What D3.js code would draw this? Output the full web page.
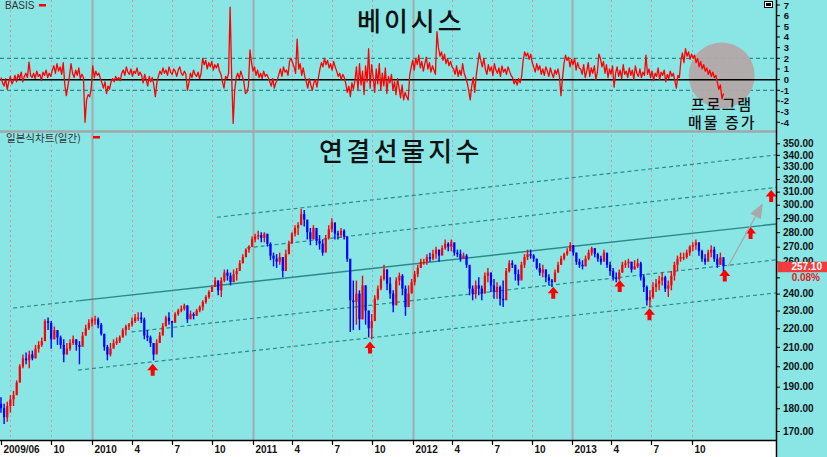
<!DOCTYPE html>
<html><head><meta charset="utf-8">
<script src="https://cdn.jsdelivr.net/npm/d3@7"></script>
<style>html,body{margin:0;padding:0;background:#8ae5e5;}svg{display:block}</style>
</head><body>
<svg id="c" width="827" height="457"></svg>
<script>
// ---------------- DATA ----------------
const startWeek = '2009-06-12';
const firstOpen = 182;
const wkHigh = [185,182,183,186,188,193,201,206,207,208,208,211,213,215,225,226,224,221,219,216,214,212,214,216,214,213,218,222,225,226,
227,226,223,217,211,212,214,215,216,220,222,223,226,228,229,229,226,219,216,212,214,218,223,227,229,224,229,231,233,234,
233,230,229,231,233,236,239,242,245,250,248,250,255,255,253,255,256,261,265,269,271,277,279,281,280,280,278,273,266,265,
266,263,268,274,280,285,287,297,296,285,283,285,281,278,275,278,285,290,285,281,283,282,271,255,248,248,242,251,245,230,
228,239,245,251,258,255,250,242,250,253,252,245,245,249,254,258,262,262,265,266,268,270,268,271,275,273,275,272,268,268,
266,265,255,245,248,250,245,253,256,253,249,247,245,248,256,261,261,258,255,260,265,268,268,265,262,259,258,255,252,249,
255,260,264,266,269,273,271,266,262,261,264,268,270,269,266,264,268,265,260,256,253,255,260,261,262,260,261,262,260,252,
245,242,247,249,251,253,251,248,254,260,264,266,266,268,271,273,275,271,268,265,268,271,270,265,266,261];
const wkLow = [178,173,174,178,181,186,192,199,201,199,203,204,207,210,215,219,209,214,211,209,202,206,208,211,208,201,211,216,219,221,
222,220,216,208,203,205,210,211,212,215,216,219,221,223,224,223,214,213,210,203,207,212,218,222,222,215,224,227,229,230,
223,226,225,227,229,230,234,237,241,244,239,238,247,248,245,247,248,255,259,263,266,270,273,275,273,273,270,261,257,256,
258,250,255,265,273,277,278,287,284,275,271,275,271,268,264,268,275,280,275,275,276,275,260,218,219,222,219,225,222,215,
214,229,236,242,248,242,237,229,237,245,239,227,233,241,245,250,256,258,258,260,261,262,260,265,268,267,267,264,263,260,
262,256,239,236,237,239,236,243,247,241,237,237,233,232,245,253,256,248,245,249,256,261,262,260,255,251,250,247,245,244,
248,253,258,261,264,267,264,258,256,255,257,261,264,263,260,258,261,256,251,248,247,248,253,256,256,253,255,256,248,241,
233,232,237,241,242,245,241,238,242,248,254,260,261,262,264,267,268,264,260,258,261,263,260,256,258,253];
const wkClose = [180,176,181,184,186,192,200,204,203,206,204,209,211,213,224,223,214,219,215,211,206,209,212,214,211,210,216,220,223,225,
225,222,217,210,206,209,212,213,215,219,221,222,224,226,226,225,216,215,212,206,212,216,221,226,224,223,228,230,231,233,
225,228,227,230,232,235,238,241,244,248,242,248,253,251,247,252,254,259,263,268,270,275,277,278,276,279,272,264,262,260,
263,254,265,272,279,283,285,293,289,280,275,283,274,272,266,276,282,287,279,278,281,277,262,236,235,240,225,245,230,220,
224,237,243,249,255,246,240,233,248,251,243,232,240,247,252,256,260,260,263,262,265,268,264,269,272,270,273,266,265,262,
264,258,243,240,245,243,240,251,253,245,241,244,237,236,254,259,258,252,248,258,263,265,264,262,256,253,255,250,248,247,
253,258,262,265,267,271,266,260,258,257,262,266,269,265,262,260,266,258,254,250,249,253,258,259,260,255,257,259,250,244,
236,238,244,246,248,250,243,245,251,258,262,263,263,266,270,271,273,267,262,260,266,268,262,258,263,257.1];
const basis = [0.2,-0.3,-0.6,0.1,-0.9,-0.2,0.3,-0.4,-0.1,0.4,-0.2,
0.5,0.1,0.7,-0.2,0.3,0.6,0.2,1.65,0.4,
0.2,0.6,0.1,0.8,0.3,0.5,-0.1,0.7,0.4,0.9,0.2,0.6,0.3,
0.9,1.3,0.6,1.5,0.8,1.2,0.5,1.6,
-0.4,-1.5,-0.6,
0.3,1.5,0.6,0.2,0.9,0.4,1.1,0.1,0.5,0.2,
-4.0,
-1.9,-1.4,-1.6,-0.8,
1.3,
0.2,0.8,0.4,0.6,0.1,
-0.3,-0.8,-0.2,-1.3,-0.6,-0.9,-0.2,
0.1,-0.2,0.3,0.0,0.2,-0.1,
0.6,0.9,0.4,1.2,0.7,0.5,1.0,0.3,0.8,0.6,1.1,0.4,0.7,
0.4,-0.3,0.5,0.0,-0.6,0.3,-0.2,0.2,-0.5,-1.6,-0.3,
0.3,0.8,0.5,1.1,0.6,0.9,0.4,1.2,0.7,0.5,1.0,0.8,0.3,0.9,1.2,0.6,0.4,0.8,0.5,-1.0,-0.3,0.6,0.2,0.9,0.5,0.3,0.7,0.1,
0.6,2.0,1.4,1.8,1.0,1.6,1.2,1.7,0.9,1.4,1.1,1.5,0.8,
0.5,-0.2,-0.8,0.3,0.1,0.6,
6.8,
0.4,-4.1,-1.0,0.2,
0.6,0.1,0.8,0.3,-0.2,
-1.3,-1.2,-0.6,
2.8,
1.6,0.8,1.2,0.4,0.9,0.2,0.6,0.1,0.8,0.3,0.5,0.2,
-0.2,-0.6,0.1,-0.8,-0.3,0.0,
0.5,1.0,0.3,1.2,0.7,0.9,0.4,
1.7,2.0,1.6,
1.2,0.6,3.8,1.0,1.5,0.4,1.1,0.3,
-0.2,-0.8,0.1,-0.5,-1.0,-0.3,0.0,-0.7,0.2,
1.0,1.6,1.2,2.0,1.4,1.8,1.1,1.5,0.9,1.7,1.2,
0.8,0.3,0.6,0.0,0.5,0.2,
-0.4,-1.2,-0.6,-1.6,-0.3,-0.9,-0.1,
1.2,-1.0,1.5,-0.5,0.8,-1.4,1.3,-0.2,2.9,
-0.8,1.4,0.2,-1.2,1.0,-0.4,1.5,-1.0,0.6,-0.6,1.1,-1.3,0.3,
-0.3,0.5,-1.0,-0.2,-1.4,0.1,-0.8,-1.7,-0.5,-1.9,-1.2,-1.6,-1.9,
0.4,1.2,1.8,0.9,2.0,1.4,2.3,1.1,1.7,0.8,1.5,2.1,1.0,1.6,0.7,1.3,0.9,0.5,
4.5,
3.0,2.2,2.6,1.8,2.4,1.5,2.0,1.3,1.7,1.2,
1.0,0.5,1.3,0.3,0.9,0.4,1.5,0.6,0.2,
-0.3,-1.0,-1.9,-0.6,0.2,-1.2,0.4,
1.5,2.5,1.8,1.2,2.0,
1.0,0.5,1.4,0.8,1.2,0.4,1.5,0.9,0.6,1.1,0.3,1.3,0.7,1.0,0.5,1.2,0.8,0.4,
0.2,-0.4,0.0,-0.5,0.1,-0.3,0.3,
1.8,2.6,2.2,2.5,1.9,2.4,1.6,
1.2,0.7,1.5,0.9,1.3,0.5,1.0,0.4,1.2,0.8,0.3,1.1,0.6,0.2,0.9,0.5,1.0,0.3,-1.5,0.1,
1.5,2.3,1.8,2.1,1.2,1.9,1.4,2.0,0.9,1.6,1.1,
1.0,0.5,1.4,0.2,0.8,1.6,0.3,1.1,0.6,1.3,0.0,0.7,2.4,
2.0,1.2,1.7,0.6,1.4,0.2,1.0,0.5,1.3,
-0.7,0.6,1.2,0.3,0.9,0.1,1.4,0.5,0.8,0.2,1.1,0.4,0.9,0.0,1.3,0.6,0.3,1.0,0.2,0.7,0.4,2.3,
0.5,1.0,0.2,0.8,-0.1,0.6,0.3,1.1,0.0,0.7,0.4,0.9,-0.2,0.5,0.1,0.8,0.3,0.6,-0.1,-0.8,0.4,0.2,
1.8,2.5,1.6,2.9,2.2,2.6,1.9,2.4,2.0,
2.3,1.6,2.0,1.2,1.7,1.0,1.4,0.8,1.1,0.5,0.9,0.3,0.7,0.2,0.4,
-0.3,-0.9,-0.5,-1.8,-1.3];
const priceTicks = [170,180,190,200,210,220,230,240,250,260,270,280,290,300,310,320,330,340,350];
const hiddenPriceLabels = [250];   // covered by the last-price badge in the original
const basisTicks = [-4,-3,-2,-1,0,1,2,3,4,5,6,7];
const basisBands = [2,-1];
const firstLabel = '2009/06';
const lastPrice = '257.10', lastChange = '0.08%';
// trend channel lines (start date/price -> end date/price)
const trendStartDate = ['2009-07-09','2010-10-12','2010-12-19','2010-04-01','2009-12-01'];
const trendStartPrice = [231.5,290.7,269.2,218.0,198.1];
const trendEndDate = '2014-04-12';
const trendEndPrice = [285.8,339.9,313.3,261.2,240.4];
const trendSolidFrom = ['2009-12-05',null,null,null,null];
// red "buy" arrows (tip date / price)
const arrowDates = ['2010-05-19','2011-09-26','2012-11-19','2013-04-20','2013-06-27','2013-12-16','2014-02-13','2014-04-01'];
const arrowPrices = [201.2,212.8,244.2,248.4,231.3,255.0,283.7,311.3];
const projFrom = ['2013-12-23',256.8], projTo = ['2014-03-13',301.1];
const circleAt = ['2013-12-09',0.4];
const titleTop = '베이시스', titleBottom = '연결선물지수';
const noteLines = ['프로그램','매물 증가'];

// ---------------- LAYOUT ----------------
const parse = d3.timeParse('%Y-%m-%d');
const AX = 776;
const svg = d3.select('#c');
const x = d3.scaleTime()
  .domain(['2009-07-01','2010-01-01','2011-01-01','2012-01-01','2013-01-01','2013-10-01'].map(parse))
  .range([9.5,92,252.5,412.5,572,691.5]);
const yp = d3.scaleLog().domain([170,350]).range([431,143.3]);
const yb = d3.scaleLinear().domain([-4,7]).range([122.3,5]);

const t0 = parse(startWeek);
const weekDates = wkClose.map((_,i)=>d3.timeDay.offset(t0,7*i));
const tEnd = weekDates[weekDates.length-1];
const bTime = d3.scaleLinear().domain([0,basis.length-1]).range([t0.getTime(),tEnd.getTime()]);

const FONT = "'Liberation Sans', Arial, sans-serif";
const KFONT = "'Noto Sans CJK KR', sans-serif";
const BG = '#8ae5e5';

svg.append('rect').attr('width',827).attr('height',457).attr('fill',BG);
svg.append('rect').attr('x',0).attr('y',441).attr('width',AX).attr('height',16).attr('fill','#ffffff');

const defs = svg.append('defs');
defs.append('clipPath').attr('id','cTop').append('rect').attr('x',0).attr('y',0).attr('width',AX).attr('height',131);
defs.append('clipPath').attr('id','cBot').append('rect').attr('x',0).attr('y',133).attr('width',AX).attr('height',307);

// vertical grid
const qDates = d3.timeMonth.every(3).range(parse('2009-07-01'), parse('2013-10-02'));
const grid = svg.append('g');
qDates.forEach(d=>{
  const xx = Math.round(x(d))+0.5;
  if (d.getMonth()===0) {
    grid.append('line').attr('x1',xx).attr('x2',xx).attr('y1',0).attr('y2',440)
      .attr('stroke','#a4acac').attr('stroke-width',2);
  } else {
    grid.append('line').attr('x1',xx).attr('x2',xx).attr('y1',0).attr('y2',440)
      .attr('stroke','#c89aa4').attr('stroke-width',1).attr('stroke-dasharray','2,3');
  }
});
// separator
svg.append('line').attr('x1',0).attr('x2',AX).attr('y1',131.5).attr('y2',131.5).attr('stroke','#a0a8a8').attr('stroke-width',2.5);

// ---- top panel ----
const topG = svg.append('g').attr('clip-path','url(#cTop)');
basisBands.forEach(v=>{
  topG.append('line').attr('x1',0).attr('x2',AX).attr('y1',yb(v)).attr('y2',yb(v))
    .attr('stroke','#2c8c8c').attr('stroke-width',1.2).attr('stroke-dasharray','4,3');
});
topG.append('circle').attr('cx',x(parse(circleAt[0]))).attr('cy',yb(circleAt[1])).attr('r',33)
  .attr('fill','#b4a8a8').attr('opacity',0.95);
topG.append('line').attr('x1',0).attr('x2',AX).attr('y1',yb(0)).attr('y2',yb(0)).attr('stroke','#000').attr('stroke-width',1.5);
topG.append('path').datum(basis)
  .attr('d', d3.line().x((d,i)=>x(new Date(bTime(i)))).y(d=>yb(d)))
  .attr('fill','none').attr('stroke','#ff0000').attr('stroke-width',1.3).attr('stroke-linejoin','round');

// ---- bottom panel ----
const botG = svg.append('g').attr('clip-path','url(#cBot)');
trendStartDate.forEach((sd,i)=>{
  const x1 = x(parse(sd)), y1 = yp(trendStartPrice[i]);
  const x2 = x(parse(trendEndDate)), y2 = yp(trendEndPrice[i]);
  if (trendSolidFrom[i]) {
    const xm = x(parse(trendSolidFrom[i]));
    const ym = y1 + (y2-y1)*(xm-x1)/(x2-x1);
    botG.append('line').attr('x1',x1).attr('y1',y1).attr('x2',xm).attr('y2',ym)
      .attr('stroke','#2c8c8c').attr('stroke-width',1.2).attr('stroke-dasharray','4,3');
    botG.append('line').attr('x1',xm).attr('y1',ym).attr('x2',x2).attr('y2',y2)
      .attr('stroke','#2a8888').attr('stroke-width',1.4);
  } else {
    botG.append('line').attr('x1',x1).attr('y1',y1).attr('x2',x2).attr('y2',y2)
      .attr('stroke','#2c8c8c').attr('stroke-width',1.2).attr('stroke-dasharray','4,3');
  }
});
const candles = wkClose.map((c,i)=>({d:weekDates[i], o: i? wkClose[i-1] : firstOpen, h:wkHigh[i], l:wkLow[i], c}));
const cg = botG.append('g');
candles.forEach(k=>{
  const col = k.c >= k.o ? '#ff0000' : '#0000ff';
  const xx = x(k.d);
  cg.append('line').attr('x1',xx).attr('x2',xx).attr('y1',yp(k.h)).attr('y2',yp(k.l))
    .attr('stroke',col).attr('stroke-width',1.4);
  const yt = Math.min(yp(k.o),yp(k.c)), yB = Math.max(yp(k.o),yp(k.c));
  cg.append('rect').attr('x',xx-1.1).attr('y',yt).attr('width',2.2).attr('height',Math.max(1.2,yB-yt)).attr('fill',col);
});
// red arrows
arrowDates.forEach((d,i)=>{
  const ax = x(parse(d)), ay = yp(arrowPrices[i]);
  const p = [[ax,ay],[ax+5.5,ay+6.5],[ax+2,ay+6.5],[ax+2,ay+12],[ax-2,ay+12],[ax-2,ay+6.5],[ax-5.5,ay+6.5]];
  svg.append('path').attr('d','M'+p.map(q=>q.join(',')).join('L')+'Z').attr('fill','#ff0000');
});
// gray projection arrow
{
  const fx = x(parse(projFrom[0])), fy = yp(projFrom[1]);
  const tx = x(parse(projTo[0])), ty = yp(projTo[1]);
  const ang = Math.atan2(ty-fy, tx-fx);
  const L = 15, Wd = 6;
  const bx = tx - L*Math.cos(ang), by = ty - L*Math.sin(ang);
  svg.append('line').attr('x1',fx).attr('y1',fy).attr('x2',bx).attr('y2',by).attr('stroke','#a8a8a8').attr('stroke-width',1.3);
  const px = -Math.sin(ang), py = Math.cos(ang);
  svg.append('path').attr('d',`M${tx},${ty}L${bx+px*Wd},${by+py*Wd}L${bx-px*Wd},${by-py*Wd}Z`).attr('fill','#a8a8a8');
}

// ---- axes ----
svg.append('line').attr('x1',AX+0.5).attr('x2',AX+0.5).attr('y1',0).attr('y2',457).attr('stroke','#000').attr('stroke-width',1.5);
svg.append('line').attr('x1',0).attr('x2',AX).attr('y1',440.5).attr('y2',440.5).attr('stroke','#000').attr('stroke-width',1.5);

const gB = svg.append('g').attr('transform',`translate(${AX},0)`);
basisTicks.forEach(v=>{
  gB.append('line').attr('x1',0).attr('x2',4).attr('y1',yb(v)).attr('y2',yb(v)).attr('stroke','#000');
  gB.append('text').attr('x',13).attr('y',yb(v)+3.5).attr('text-anchor','end')
    .attr('font-family',FONT).attr('font-size',9.5).attr('font-weight','bold').attr('fill','#111').text(v);
});
const fmt = d3.format('.2f');
const gP = svg.append('g').attr('transform',`translate(${AX},0)`)
  .call(d3.axisRight(yp).tickValues(priceTicks)
    .tickFormat(v => hiddenPriceLabels.includes(v) ? '' : fmt(v)).tickSize(4).tickPadding(3));
gP.select('.domain').remove();
gP.selectAll('line').attr('stroke','#000');
gP.selectAll('text').attr('font-family',FONT).attr('font-size',10).attr('font-weight','bold').attr('fill','#111');

// last price badge
{
  const ly = yp(+lastPrice);
  svg.append('rect').attr('x',777.5).attr('y',ly-4.5).attr('width',50).attr('height',10.5).attr('fill','#f03c3c');
  svg.append('text').attr('x',822).attr('y',ly+4).attr('text-anchor','end').attr('font-family',FONT)
    .attr('font-size',10).attr('font-weight','bold').attr('fill','#fff').text(lastPrice);
  svg.append('text').attr('x',820).attr('y',ly+15).attr('text-anchor','end').attr('font-family',FONT)
    .attr('font-size',10).attr('font-weight','bold').attr('fill','#e02020').text(lastChange);
}

// bottom axis
const xa = svg.append('g');
const xLabels = [{d: weekDates[0], t:firstLabel}].concat(
  qDates.filter(d=>!(d.getFullYear()===2009 && d.getMonth()===6))
    .map(d=>({d, t: d.getMonth()===0 ? String(d.getFullYear()) : String(d.getMonth()+1)})));
xLabels.forEach(o=>{
  const xx = Math.round(x(o.d))+0.5;
  xa.append('line').attr('x1',xx).attr('x2',xx).attr('y1',440).attr('y2',445).attr('stroke','#000').attr('stroke-width',1.2);
  xa.append('text').attr('x',xx+2).attr('y',452.5).attr('font-family',FONT).attr('font-size',10)
    .attr('font-weight','bold').attr('fill','#111').text(o.t);
});

// legends
svg.append('text').attr('x',5).attr('y',9).attr('font-family',FONT).attr('font-size',10).attr('fill','#333').text('BASIS');
svg.append('rect').attr('x',39).attr('y',4).attr('width',7).attr('height',2.5).attr('fill','#ff0000');
svg.append('text').attr('x',6).attr('y',141.5).attr('font-family',KFONT).attr('font-size',10.5).attr('fill','#333').text('일본식차트(일간)');
svg.append('rect').attr('x',93).attr('y',136).attr('width',7).attr('height',2.5).attr('fill','#ff0000');
// small icon top right
svg.append('rect').attr('x',764.5).attr('y',1.5).attr('width',8).attr('height',6).attr('fill','#fff').attr('stroke','#000');
svg.append('rect').attr('x',766).attr('y',3).attr('width',5).attr('height',3).attr('fill','#000');

// titles
svg.append('text').attr('x',357).attr('y',31).attr('font-family',KFONT).attr('font-size',26).attr('font-weight',500)
  .attr('letter-spacing',3).attr('fill','#111').text(titleTop);
svg.append('text').attr('x',319).attr('y',161).attr('font-family',KFONT).attr('font-size',26).attr('font-weight',500)
  .attr('letter-spacing',3.4).attr('fill','#111').text(titleBottom);
// two-line annotation as one text block
const note = svg.append('text').attr('font-family',KFONT).attr('font-size',15).attr('font-weight',500).attr('fill','#111');
note.append('tspan').attr('x',691).attr('y',109.5).attr('letter-spacing',1.6).text(noteLines[0]);
note.append('tspan').attr('x',688).attr('y',127.5).attr('letter-spacing',2).text(noteLines[1]);
</script>
</body></html>
